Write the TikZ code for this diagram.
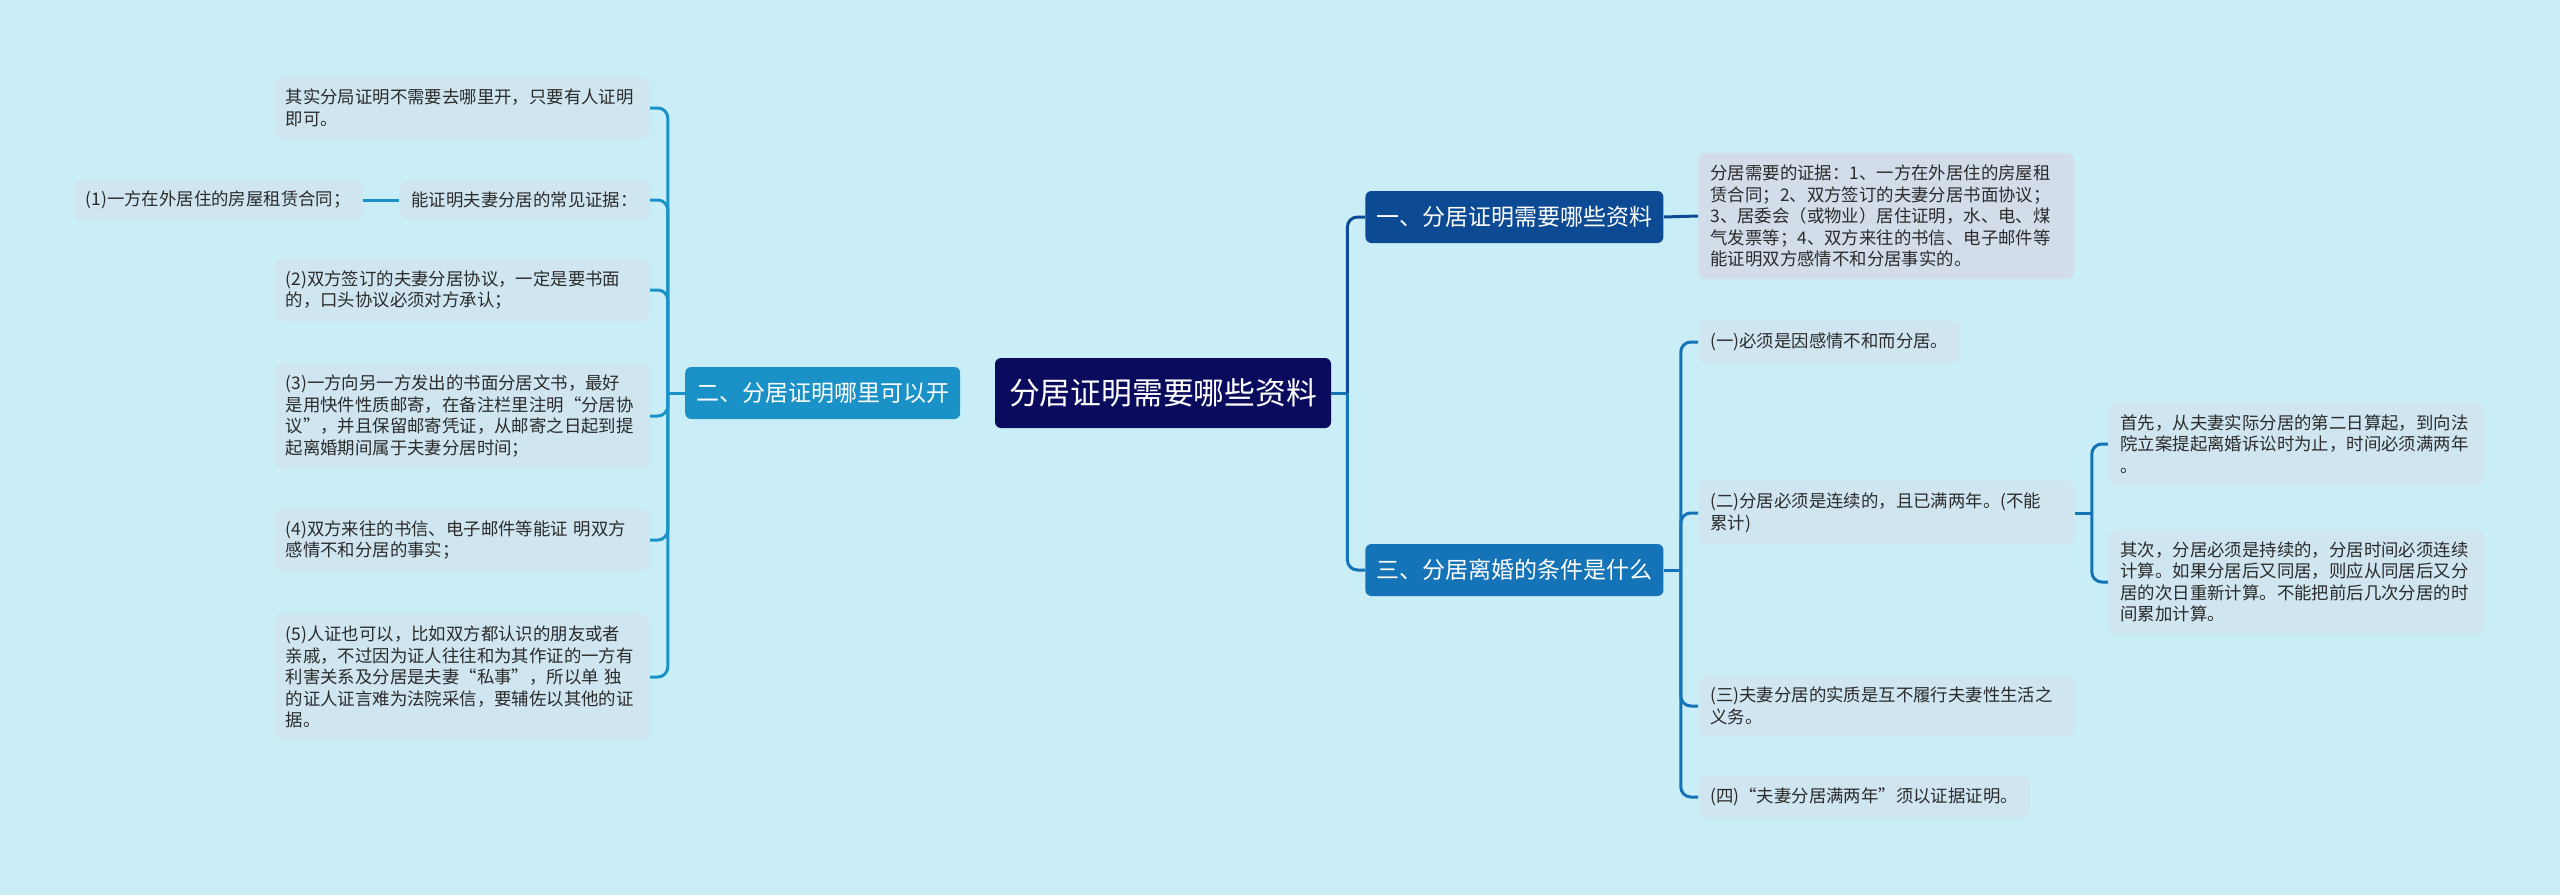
\documentclass[tikz,border=0pt]{standalone}
\usepackage{fontspec}
\setmainfont{Noto Sans CJK SC}
\usepackage{tikz}
\usetikzlibrary{positioning}
\definecolor{bgcol}{HTML}{C9EEF7}
\definecolor{topiccol}{HTML}{0B0B5E}
\definecolor{leftcol}{HTML}{1A92C7}
\definecolor{onecol}{HTML}{0D4A94}
\definecolor{threecol}{HTML}{1573B8}
\definecolor{leafcol}{HTML}{CFE5EF}
\definecolor{notecol}{HTML}{D3DDE9}
\definecolor{inkcol}{HTML}{2B2B2B}

\begin{document}
\begin{tikzpicture}[
  x=0.5pt, y=-0.5pt,
  topic/.style={fill=topiccol, text=white, rounded corners=3pt, inner xsep=7pt,
    minimum height=35pt, font=\fontsize{15.4pt}{18pt}\selectfont},
  branch/.style={text=white, rounded corners=3pt, inner xsep=5.5pt,
    minimum height=26pt, font=\fontsize{11.5pt}{14pt}\selectfont},
  leaf/.style={fill=leafcol, text=inkcol, rounded corners=4pt, align=left,
    inner xsep=6pt, inner ysep=6pt, font=\fontsize{8.7pt}{10.75pt}\selectfont},
  wide/.style={leaf, text width=176pt},
  link/.style={line width=1.5pt, rounded corners=5pt}
]
\useasboundingbox[fill=bgcol] (0,0) rectangle (2560,895);

\node[topic] (topic) at (1163,393) {分居证明需要哪些资料};
\node[branch, fill=leftcol, left=17pt of topic] (b2) {二、分居证明哪里可以开};
\node[branch, fill=onecol, anchor=west] (b1) at (1365,217) {一、分居证明需要哪些资料};
\node[branch, fill=threecol, anchor=west] (b3) at (1365,570) {三、分居离婚的条件是什么};

\node[wide, anchor=east] (l1) at (650,108) {其实分局证明不需要去哪里开，只要有人证明\\即可。};
\node[leaf, anchor=east] (l2) at (650,200) {能证明夫妻分居的常见证据：};
\node[leaf, left=18pt of l2] (l2a) {(1)一方在外居住的房屋租赁合同；};
\node[wide, anchor=east] (l3) at (650,290) {(2)双方签订的夫妻分居协议，一定是要书面\\的，口头协议必须对方承认；};
\node[wide, anchor=east] (l4) at (650,416) {(3)一方向另一方发出的书面分居文书，最好\\是用快件性质邮寄，在备注栏里注明“分居协\\议”，并且保留邮寄凭证，从邮寄之日起到提\\起离婚期间属于夫妻分居时间；};
\node[wide, anchor=east] (l5) at (650,540) {(4)双方来往的书信、电子邮件等能证 明双方\\感情不和分居的事实；};
\node[wide, anchor=east] (l6) at (650,677) {(5)人证也可以，比如双方都认识的朋友或者\\亲戚，不过因为证人往往和为其作证的一方有\\利害关系及分居是夫妻“私事”，所以单 独\\的证人证言难为法院采信，要辅佐以其他的证\\据。};

\node[wide, fill=notecol, anchor=west] (n1) at (1698,216) {分居需要的证据：1、一方在外居住的房屋租\\赁合同；2、双方签订的夫妻分居书面协议；\\3、居委会（或物业）居住证明，水、电、煤\\气发票等；4、双方来往的书信、电子邮件等\\能证明双方感情不和分居事实的。};

\node[leaf, anchor=west] (c1) at (1698,342) {(一)必须是因感情不和而分居。};
\node[wide, anchor=west] (c2) at (1698,513) {(二)分居必须是连续的，且已满两年。(不能\\累计)};
\node[wide, anchor=west] (c3) at (1698,706) {(三)夫妻分居的实质是互不履行夫妻性生活之\\义务。};
\node[leaf, anchor=west] (c4) at (1698,797) {(四)“夫妻分居满两年”须以证据证明。};

\node[wide, anchor=west] (g1) at (2108,444) {首先，从夫妻实际分居的第二日算起，到向法\\院立案提起离婚诉讼时为止，时间必须满两年\\。};
\node[wide, anchor=west] (g2) at (2108,582) {其次，分居必须是持续的，分居时间必须连续\\计算。如果分居后又同居，则应从同居后又分\\居的次日重新计算。不能把前后几次分居的时\\间累加计算。};

\draw[link, leftcol] (b2.west) -- ++(-17,0) coordinate (lt);
\foreach \n in {l1,l2,l3,l4,l5,l6}
  \draw[link, leftcol] (lt) |- (\n.east);
\draw[link, leftcol] (l2.west) -- (l2a.east);

\draw[link, threecol] (topic.east) -- ++(16,0) coordinate (rt);
\draw[link, onecol] (rt) |- (b1.west);
\draw[link, threecol] (rt) |- (b3.west);
\draw[link, onecol] (b1.east) -- (n1.west);

\draw[link, threecol] (b3.east) -- ++(17,0) coordinate (ct);
\foreach \n in {c1,c2,c3,c4}
  \draw[link, threecol] (ct) |- (\n.west);
\draw[link, threecol] (c2.east) -- ++(17,0) coordinate (gt);
\foreach \n in {g1,g2}
  \draw[link, threecol] (gt) |- (\n.west);
\end{tikzpicture}
\end{document}
